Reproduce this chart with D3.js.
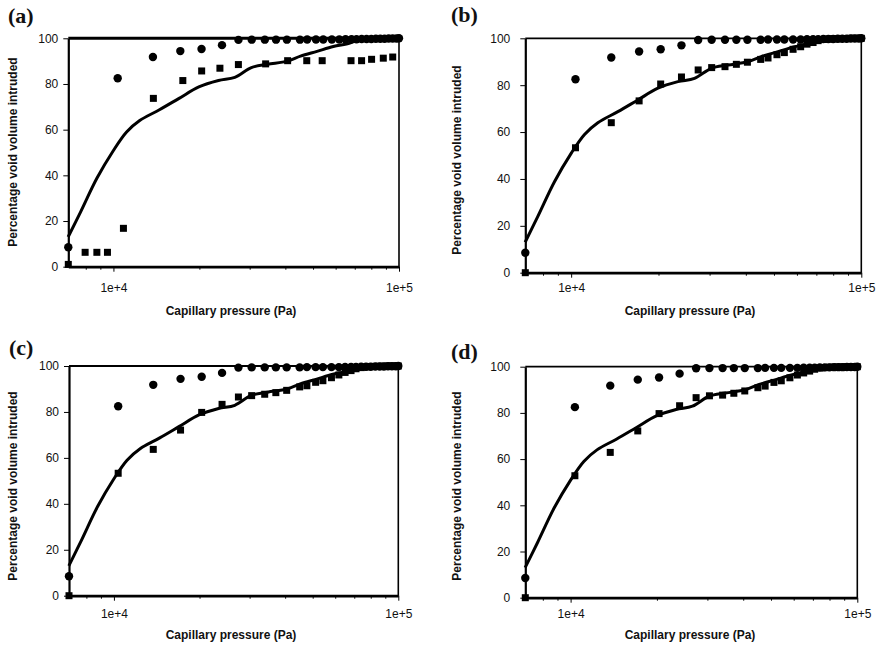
<!DOCTYPE html>
<html>
<head>
<meta charset="utf-8">
<script src="https://cdn.jsdelivr.net/npm/d3@7"></script>
<style>
  body { margin: 0; background: #fff; }
  text { font-family: Arial, "Liberation Sans", sans-serif; fill: #111; }
</style>
</head>
<body>
<div id="canvas"></div>
<script>
"use strict"

/* Data */
// pressures (Pa) shared by the simulated circles and panels b-d squares
let pressure = [6950, 10350, 13750, 17150, 20350, 24000, 27400, 30500, 33900, 37100,
    40500, 45000, 47700, 51200, 54300, 58200, 61800, 65000, 68200, 71000,
    74000, 77000, 80000, 83000, 86000, 89000, 92000, 95000, 98000, 100000];

let circleValues = [8.5, 82.5, 91.8, 94.4, 95.3, 97.0, 99.3, 99.4, 99.4, 99.4,
    99.4, 99.4, 99.5, 99.5, 99.5, 99.5, 99.5, 99.6, 99.6, 99.6,
    99.7, 99.7, 99.7, 99.8, 99.8, 99.8, 99.9, 99.9, 99.9, 100];

let squaresB = [0, 53.3, 64.0, 73.3, 80.5, 83.5, 86.5, 87.5, 87.9, 88.9,
    89.8, 91.0, 91.6, 93.0, 93.9, 95.3, 96.4, 97.5, 98.2, 99.0,
    99.5, 99.7, 99.8, 99.8, 99.9, 99.9, 100, 100, 100, 100];
let squaresC = [0, 53.3, 63.7, 72.1, 79.8, 83.3, 86.5, 87.1, 87.7, 88.4,
    89.4, 90.9, 91.4, 92.9, 93.6, 94.9, 96.1, 97.2, 98.0, 98.8,
    99.3, 99.6, 99.8, 99.8, 99.9, 99.9, 100, 100, 100, 100];
let squaresD = [0, 52.8, 62.9, 72.2, 79.7, 83.1, 86.6, 87.4, 87.7, 88.5,
    89.5, 90.9, 91.6, 93.2, 93.9, 95.2, 96.4, 97.3, 98.1, 98.9,
    99.4, 99.6, 99.8, 99.8, 99.9, 99.9, 100, 100, 100, 100];

// panel a squares have their own pressures
let pressureA = [6950, 7960, 8750, 9530, 10840, 13800, 17500, 20370, 23600, 27390,
    34120, 40740, 47530, 53830, 67920, 73960, 80170, 88100, 95060];
let squaresA = [1.0, 6.3, 6.3, 6.3, 16.8, 73.7, 81.5, 85.7, 86.9, 88.5,
    88.8, 90.2, 90.2, 90.2, 90.2, 90.2, 90.8, 91.3, 91.8];

// model curve (solid line), same in every panel
let linePressure = [6940, 7670, 8760, 10000, 11120, 12360, 14490, 16980, 19910, 23330,
    26610, 30410, 34670, 40640, 45190, 51640, 58880, 67300, 72780, 100000];
let lineValues = [13.0, 23.9, 38.8, 50.9, 59.0, 64.0, 68.7, 73.7, 78.7, 81.5,
    82.9, 87.2, 88.6, 90.0, 92.2, 94.3, 96.4, 97.9, 99.6, 100];

let xDomain = [6950, 100000];
let xTickValues = [1e4, 1e5];
let xTickLabels = ["1e+4", "1e+5"];
let xMinorTicks = [8000, 9000, 20000, 30000, 40000, 50000, 60000, 70000, 80000, 90000];
let yTickValues = [0, 20, 40, 60, 80, 100];

let xTitle = "Capillary pressure (Pa)";
let yTitle = "Percentage void volume intruded";

/* Panel layout */
let panels = [
    {label: "(a)", lx: 8, ly: 23, left: 68.3, right: 399, top: 38.3, bottom: 266.7,
     pad: 9, xp: pressureA, sq: squaresA, topWidth: 3,
     tx: 231, ty: 315, yx: 17, yy: 152, tickY: 292},
    {label: "(b)", lx: 451, ly: 22, left: 525.3, right: 861.3, top: 38.3, bottom: 272.7,
     pad: 14, xp: pressure, sq: squaresB, topWidth: 1.8,
     tx: 690, ty: 315, yx: 461, yy: 160, tickY: 292},
    {label: "(c)", lx: 9, ly: 355, left: 69, right: 398.3, top: 366, bottom: 595.7,
     pad: 9, xp: pressure, sq: squaresC, topWidth: 1.8,
     tx: 231, ty: 639, yx: 17, yy: 486, tickY: 618},
    {label: "(d)", lx: 451, ly: 359, left: 525.3, right: 857.3, top: 366.7, bottom: 597.7,
     pad: 14, xp: pressure, sq: squaresD, topWidth: 1.8,
     tx: 690, ty: 639, yx: 461, yy: 486, tickY: 618}
];

let svg = d3.select("#canvas")
    .append("svg")
    .attr("width", 878)
    .attr("height", 649);

panels.forEach(function(p) {
    let x = d3.scaleLog().domain(xDomain).range([p.left, p.right]);
    let y = d3.scaleLinear().domain([0, 100]).range([p.bottom, p.top]);
    let g = svg.append("g");

    // frame: top and right thin, left and bottom heavier
    g.append("line").attr("x1", p.left).attr("x2", p.right)
        .attr("y1", p.top).attr("y2", p.top)
        .attr("stroke", "#000").attr("stroke-width", p.topWidth);
    g.append("line").attr("x1", p.right).attr("x2", p.right)
        .attr("y1", p.top).attr("y2", p.bottom)
        .attr("stroke", "#000").attr("stroke-width", 1.6);

    // y axis
    let yAxis = g.append("g")
        .attr("transform", "translate(" + p.left + ",0)")
        .call(d3.axisLeft(y).tickValues(yTickValues).tickSize(5).tickPadding(p.pad - 4).tickSizeOuter(0));
    yAxis.select(".domain").attr("stroke-width", 2.2);
    yAxis.selectAll("text").attr("font-size", 12).attr("font-family", "Arial, 'Liberation Sans', sans-serif");

    // x axis minor ticks
    g.append("g")
        .attr("transform", "translate(0," + p.bottom + ")")
        .call(d3.axisBottom(x).tickValues(xMinorTicks).tickSize(3).tickFormat("").tickSizeOuter(0))
        .select(".domain").remove();

    // x axis major ticks
    let xAxis = g.append("g")
        .attr("transform", "translate(0," + p.bottom + ")")
        .call(d3.axisBottom(x).tickValues(xTickValues).tickSize(5).tickSizeOuter(0)
            .tickFormat(function(d, i) { return xTickLabels[i]; }));
    xAxis.select(".domain").attr("stroke-width", 2.8);
    xAxis.selectAll("text")
        .attr("font-size", 12)
        .attr("font-family", "Arial, 'Liberation Sans', sans-serif")
        .attr("dy", null)
        .attr("y", p.tickY - p.bottom);

    // model curve
    let line = d3.line()
        .x(function(d, i) { return x(linePressure[i]); })
        .y(function(d) { return y(d); })
        .curve(d3.curveCatmullRom.alpha(0.5));
    g.append("path")
        .datum(lineValues)
        .attr("d", line)
        .attr("fill", "none")
        .attr("stroke", "#000")
        .attr("stroke-width", 3)
        .attr("stroke-linejoin", "round");

    // circles
    g.selectAll("circle")
        .data(circleValues)
        .join("circle")
        .attr("cx", function(d, i) { return x(pressure[i]); })
        .attr("cy", function(d) { return y(d); })
        .attr("r", 4.2)
        .attr("fill", "#000");

    // squares
    let s = 7;
    g.selectAll("rect.sq")
        .data(p.sq)
        .join("rect")
        .attr("class", "sq")
        .attr("x", function(d, i) { return x(p.xp[i]) - s / 2; })
        .attr("y", function(d) { return y(d) - s / 2; })
        .attr("width", s)
        .attr("height", s)
        .attr("fill", "#000");

    // axis titles
    g.append("text")
        .attr("x", p.tx)
        .attr("y", p.ty)
        .attr("text-anchor", "middle")
        .attr("font-size", 12)
        .attr("font-weight", "bold")
        .text(xTitle);

    g.append("text")
        .attr("transform", "translate(" + p.yx + "," + p.yy + ") rotate(-90)")
        .attr("text-anchor", "middle")
        .attr("font-size", 12)
        .attr("font-weight", "bold")
        .text(yTitle);

    // panel label
    g.append("text")
        .attr("x", p.lx)
        .attr("y", p.ly)
        .style("font-family", "'Liberation Serif', 'Times New Roman', serif")
        .attr("font-size", 22)
        .attr("font-weight", "bold")
        .text(p.label);
});
</script>
</body>
</html>
